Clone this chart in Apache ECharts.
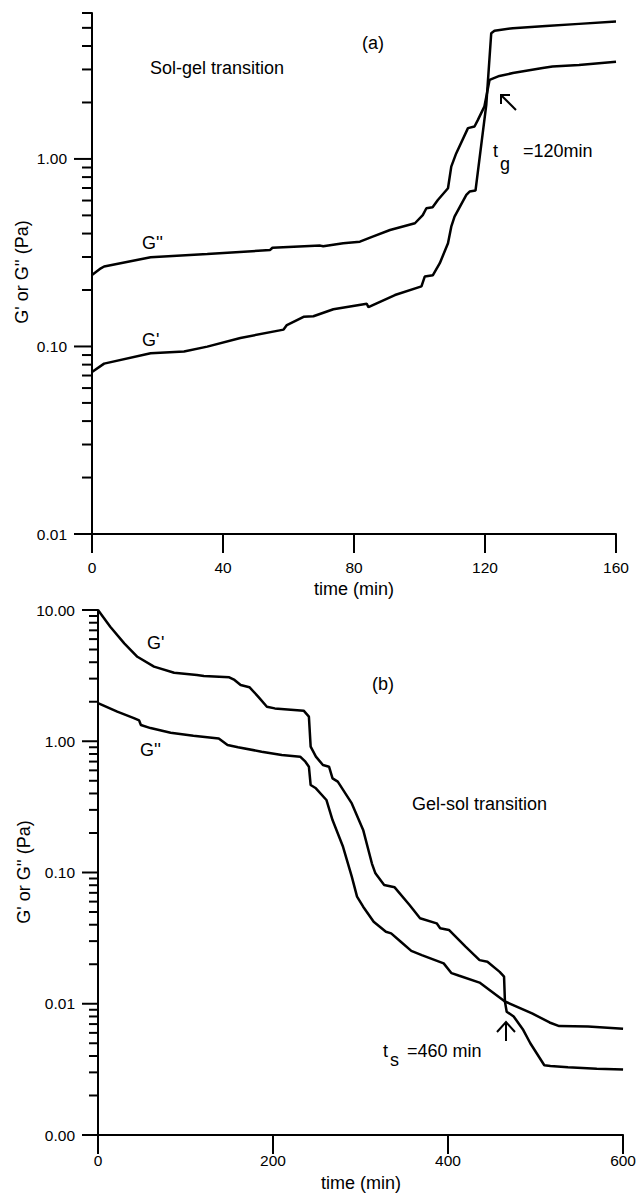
<!DOCTYPE html>
<html><head><meta charset="utf-8">
<script src="https://cdn.jsdelivr.net/npm/echarts@6/dist/echarts.min.js"></script>
<style>html,body{margin:0;padding:0;background:#fff}#c{width:639px;height:1201px}</style>
</head><body><div id="c"></div>
<script>
// ---- Panel (a): sol-gel transition ----
const topGpTime = [0,3.7,17.9,28.1,35.2,45.3,58.5,59.5,64.6,67.6,73.7,83.9,84.4,92.5,100.6,101.6,104.1,106.2,108.7,109.7,110.7,114.3,115.3,117.1,120.4,121.9,122.9,128.5,138.6,148.7,160];
const topGpVal  = [0.073,0.081,0.092,0.094,0.0998,0.111,0.123,0.130,0.144,0.145,0.158,0.169,0.162,0.188,0.209,0.236,0.240,0.278,0.355,0.435,0.492,0.643,0.670,0.678,1.95,4.68,4.83,4.98,5.12,5.25,5.40];
const topGppTime = [0,2.7,3.7,17.9,35.2,54.4,55.1,69.7,70.6,76.7,81.8,85.9,91.0,98.6,101.0,102.1,104.0,105.6,108.7,109.7,111.2,114.8,116.8,117.8,119.8,121.4,124.4,128.5,137.6,140.6,148.7,160];
const topGppVal  = [0.2405,0.261,0.267,0.299,0.311,0.327,0.336,0.345,0.342,0.355,0.362,0.386,0.418,0.454,0.502,0.546,0.552,0.604,0.698,0.910,1.07,1.46,1.49,1.61,1.90,2.64,2.77,2.87,3.05,3.11,3.17,3.30];
const topXTicks = [0,40,80,120,160];
const topYMajor = [0.01,0.1,1];
const topYMinor = [0.02,0.03,0.04,0.05,0.06,0.07,0.08,0.09,0.2,0.3,0.4,0.5,0.6,0.7,0.8,0.9,2,3,4,5,6];

// ---- Panel (b): gel-sol transition ----
const botGpTime = [0,14,30,45,64,87,113,121,150,156,163,173,183,193,202,235,241,243,249,257,264,268,274,290,303,313,317,327,339,356,368,387,391,401,420,436,445,459,464,465,467,475,486,494,510,517,537,570,600];
const botGpVal  = [10.0,7.46,5.57,4.40,3.70,3.33,3.20,3.14,3.07,2.93,2.68,2.58,2.19,1.83,1.78,1.71,1.54,0.91,0.764,0.659,0.640,0.521,0.492,0.336,0.211,0.117,0.0986,0.0804,0.0771,0.0565,0.0448,0.0410,0.0376,0.0365,0.0272,0.0215,0.0209,0.0175,0.0161,0.0104,0.0087,0.0080,0.0063,0.0050,0.0034,0.00336,0.00328,0.0032,0.00315];
const botGppTime = [0,22,41,47,49,60,83,109,138,148,160,187,210,231,237,241,243,249,261,268,280,290,296,303,315,329,335,346,358,370,395,404,412,436,447,465,496,516,527,560,600];
const botGppVal  = [1.95,1.68,1.50,1.44,1.33,1.26,1.16,1.10,1.05,0.935,0.899,0.833,0.786,0.763,0.699,0.640,0.464,0.438,0.357,0.251,0.157,0.0930,0.0655,0.0549,0.0422,0.0354,0.0344,0.0297,0.0253,0.0235,0.0203,0.0171,0.0164,0.0145,0.0128,0.0104,0.00845,0.0072,0.00676,0.0067,0.00645];
const botXTicks = [0,200,400,600];
const botYMajor = [0.001,0.01,0.1,1,10];
const botYMinor = [0.002,0.003,0.004,0.005,0.006,0.007,0.008,0.009,0.02,0.03,0.04,0.05,0.06,0.07,0.08,0.09,0.2,0.3,0.4,0.5,0.6,0.7,0.8,0.9,2,3,4,5,6,7,8,9];

const FONT = '"Liberation Sans", Arial, sans-serif';
const zip = (a, b) => a.map((t, i) => [t, b[i]]);
const isMajor = (list) => (v) => list.some(m => Math.abs(Math.log10(v) - Math.log10(m)) < 1e-6);
const fmtFor = (list) => { const f = isMajor(list); return (v) => f(v) ? Number(v).toFixed(2) : ''; };

function tickSeries(idx, values, len) {
  return {
    type: 'custom', xAxisIndex: idx, yAxisIndex: idx, silent: true, clip: false,
    data: values.map(v => [0, v]), encode: {x: 0, y: 1},
    renderItem: function (params, api) {
      const p = api.coord([api.value(0), api.value(1)]);
      return {type: 'line', shape: {x1: p[0] - len, y1: p[1], x2: p[0], y2: p[1]},
              style: {stroke: '#000', lineWidth: 2}};
    }
  };
}
function curve(idx, t, v) {
  return {type: 'line', xAxisIndex: idx, yAxisIndex: idx, data: zip(t, v), symbol: 'none',
          clip: false, lineStyle: {color: '#000', width: 2.5}};
}
function xAx(idx, ticks, margin) {
  return {type: 'value', gridIndex: idx, min: ticks[0], max: ticks[ticks.length - 1],
          interval: ticks[1] - ticks[0],
          axisLine: {onZero: false, lineStyle: {color: '#000', width: 2}},
          axisTick: {show: true, length: 19, lineStyle: {color: '#000', width: 2}},
          splitLine: {show: false},
          axisLabel: {margin: margin, fontSize: 15.5, color: '#000', fontFamily: FONT}};
}
function yAx(idx, major, max, margin) {
  return {type: 'log', logBase: 10, gridIndex: idx, min: major[0], max: max,
          axisLine: {show: true, onZero: false, lineStyle: {color: '#000', width: 2}},
          axisTick: {show: false}, splitLine: {show: false},
          axisLabel: {interval: 0, margin: margin, fontSize: 15.5, color: '#000', fontFamily: FONT,
                      formatter: fmtFor(major)}};
}
function txt(text, x, y, align, size, extra) {
  return Object.assign({type: 'text', x: x, y: y, silent: true,
    style: {text: text, x: 0, y: 0, font: (size || 18) + 'px ' + FONT, fill: '#000',
            textAlign: align || 'left', align: align || 'left',
            textVerticalAlign: 'middle', verticalAlign: 'middle'}}, extra || {});
}
function seg(points) {
  return {type: 'polyline', silent: true, shape: {points: points},
          style: {stroke: '#000', lineWidth: 2, fill: null}};
}

const chart = echarts.init(document.getElementById('c'), null, {renderer: 'svg'});
chart.setOption({
  animation: false,
  backgroundColor: '#fff',
  grid: [
    {left: 92, top: 13, width: 524, height: 521},
    {left: 98, top: 610, width: 526, height: 525}
  ],
  xAxis: [xAx(0, topXTicks, 25), xAx(1, botXTicks, 17)],
  yAxis: [yAx(0, topYMajor, 6, 25), yAx(1, botYMajor, 10, 23)],
  series: [
    curve(0, topGpTime, topGpVal),
    curve(0, topGppTime, topGppVal),
    curve(1, botGpTime, botGpVal),
    curve(1, botGppTime, botGppVal),
    tickSeries(0, topYMajor, 18),
    tickSeries(0, topYMinor, 10),
    tickSeries(1, botYMajor, 16),
    tickSeries(1, botYMinor, 9)
  ],
  graphic: [
    // panel (a)
    txt('(a)', 373, 43, 'center'),
    txt('Sol-gel transition', 150, 68),
    txt("G''", 142, 243),
    txt("G'", 142, 340),
    txt('t', 493, 151),
    txt('g', 500, 164),
    txt('=120min', 523, 151),
    seg([[510, 95], [501, 95], [501, 104]]),
    seg([[501, 95], [516, 110]]),
    txt("G' or G'' (Pa)", 22, 272, 'center', 18, {rotation: Math.PI / 2}),
    txt('time (min)', 354, 589, 'center'),
    // panel (b)
    txt("G'", 147, 643),
    txt("G''", 140, 750),
    txt('(b)', 383, 684, 'center'),
    txt('Gel-sol transition', 412, 804),
    txt('t', 383, 1051),
    txt('s', 390, 1060),
    txt('=460 min', 407, 1051),
    seg([[497, 1032], [506, 1022], [515, 1032]]),
    seg([[506, 1022], [506, 1041]]),
    txt("G' or G'' (Pa)", 24, 872, 'center', 18, {rotation: Math.PI / 2}),
    txt('time (min)', 361, 1183, 'center')
  ]
});
</script></body></html>
